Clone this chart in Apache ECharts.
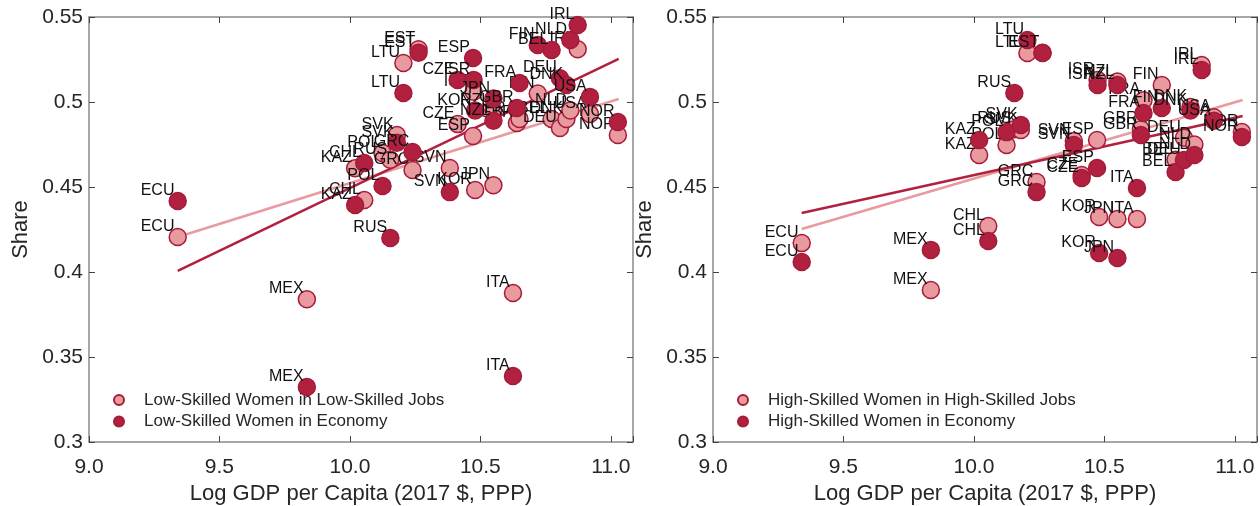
<!DOCTYPE html>
<html>
<head>
<meta charset="utf-8">
<script src="https://cdn.jsdelivr.net/npm/echarts@6/dist/echarts.min.js"></script>
<style>
  html, body { margin: 0; padding: 0; background: #fff; }
  #chart { width: 1260px; height: 506px; }
</style>
</head>
<body>
<div id="chart"></div>
<script>
  const countries = ['ECU', 'MEX', 'KAZ', 'CHL', 'POL', 'RUS', 'SVK', 'LTU', 'GRC', 'EST', 'SVN', 'CZE', 'ESP', 'ISR', 'KOR', 'JPN', 'NZL', 'ITA', 'GBR', 'FRA', 'FIN', 'BEL', 'DEU', 'DNK', 'NLD', 'IRL', 'USA', 'NOR'];
  const logGdp = [9.34, 9.835, 10.02, 10.055, 10.125, 10.155, 10.18, 10.205, 10.24, 10.263, 10.383, 10.413, 10.472, 10.474, 10.48, 10.55, 10.55, 10.625, 10.64, 10.65, 10.72, 10.773, 10.805, 10.83, 10.845, 10.873, 10.92, 11.027];

  // left panel
  const lowInLowJobs = [0.4206, 0.384, 0.461, 0.4424, 0.47, 0.466, 0.4806, 0.5229, 0.46, 0.531, 0.4612, 0.487, 0.48, 0.506, 0.4482, 0.451, 0.495, 0.3876, 0.4876, 0.49, 0.505, 0.49, 0.4847, 0.49, 0.495, 0.531, 0.493, 0.4806];
  const lowInEconomy = [0.4418, 0.3324, 0.4394, 0.4641, 0.4506, 0.42, 0.476, 0.5053, 0.4706, 0.529, 0.447, 0.513, 0.5259, 0.513, 0.495, 0.502, 0.489, 0.3388, 0.4965, 0.5112, 0.5335, 0.5306, 0.514, 0.51, 0.5365, 0.5453, 0.503, 0.4882];
  // right panel
  const highInHighJobs = [0.417, 0.3894, 0.4688, 0.427, 0.4747, 0.484, 0.4835, 0.5288, 0.4529, 0.529, 0.477, 0.457, 0.4776, 0.513, 0.4324, 0.4312, 0.512, 0.4312, 0.484, 0.501, 0.51, 0.466, 0.479, 0.497, 0.475, 0.5218, 0.491, 0.4824];
  const highInEconomy = [0.4059, 0.413, 0.4776, 0.4182, 0.4823, 0.5053, 0.4865, 0.5365, 0.447, 0.5288, 0.4747, 0.4553, 0.4612, 0.51, 0.4112, 0.4082, 0.51, 0.4494, 0.4806, 0.4935, 0.4965, 0.4588, 0.4659, 0.495, 0.4688, 0.5188, 0.489, 0.4794];

  // fitted lines, end points
  const lowJobsFit = [[9.34, 0.4206], [11.03, 0.5018]];
  const lowEconFit = [[9.34, 0.4006], [11.03, 0.5253]];
  const highJobsFit = [[9.34, 0.4253], [11.03, 0.5012]];
  const highEconFit = [[9.34, 0.4347], [11.03, 0.4918]];

  const xTicks = ['9.0', '9.5', '10.0', '10.5', '11.0'];
  const yTicks = ['0.3', '0.35', '0.4', '0.45', '0.5', '0.55'];

  const light = '#e89a9e';
  const dark = '#b2203f';
  const edge = '#a51c3a';
  const textColor = '#262626';
  const frameColor = '#8a8a8a';
  const font = 'Liberation Sans, Arial, sans-serif';

  const points = (ys) => countries.map((c, i) => ({ name: c, value: [logGdp[i], ys[i]] }));

  const grids = [
    { left: 89, top: 17, width: 544, height: 425, outerBoundsMode: 'none' },
    { left: 713, top: 17, width: 544, height: 425, outerBoundsMode: 'none' },
  ];

  const xAxes = [];
  const yAxes = [];
  grids.forEach((g, i) => {
    const common = {
      gridIndex: i,
      type: 'value',
      axisLine: { show: true, onZero: false, lineStyle: { color: frameColor, width: 1.5 } },
      axisTick: { show: true, inside: true, length: 6, lineStyle: { color: '#444', width: 1 } },
      splitLine: { show: false },
    };
    const xBase = { ...common, min: +xTicks[0], max: 11.085, interval: 0.5 };
    const yBase = { ...common, min: +yTicks[0], max: +yTicks[yTicks.length - 1], interval: 0.05 };
    xAxes.push({
      ...xBase,
      position: 'bottom',
      name: 'Log GDP per Capita (2017 $, PPP)',
      nameLocation: 'middle',
      nameGap: 41,
      nameTextStyle: { color: textColor, fontSize: 22, fontFamily: font },
      axisLabel: {
        color: textColor, fontSize: 21, fontFamily: font, margin: 15,
        formatter: (v) => xTicks.find((t) => Math.abs(+t - v) < 1e-6) || '',
      },
    });
    xAxes.push({ ...xBase, position: 'top', axisLabel: { show: false } });
    yAxes.push({
      ...yBase,
      position: 'left',
      name: 'Share',
      nameLocation: 'middle',
      nameGap: 57,
      nameTextStyle: { color: textColor, fontSize: 22, fontFamily: font },
      axisLabel: {
        color: textColor, fontSize: 21, fontFamily: font, margin: 6,
        formatter: (v) => yTicks.find((t) => Math.abs(+t - v) < 1e-6) || '',
      },
    });
    yAxes.push({ ...yBase, position: 'right', axisLabel: { show: false } });
  });

  const labelStyle = {
    show: true,
    formatter: (p) => p.name,
    position: [6, 7],
    align: 'right',
    verticalAlign: 'bottom',
    color: '#111',
    fontSize: 16,
    fontFamily: font,
  };

  const scatter = (name, data, fill, axis) => ({
    name,
    type: 'scatter',
    xAxisIndex: axis * 2,
    yAxisIndex: axis * 2,
    symbol: 'circle',
    symbolSize: 17,
    data,
    itemStyle: { color: fill, borderColor: edge, borderWidth: 1.5, opacity: 1 },
    label: labelStyle,
    emphasis: { disabled: true },
    z: fill === dark ? 3 : 2,
  });

  const fitLine = (data, color, axis) => ({
    type: 'line',
    xAxisIndex: axis * 2,
    yAxisIndex: axis * 2,
    data,
    symbol: 'none',
    lineStyle: { color, width: 2.5 },
    silent: true,
    z: 1,
  });

  const legendStyle = (left, names) => ({
    left,
    top: 385,
    orient: 'vertical',
    data: names,
    icon: 'circle',
    itemWidth: 30,
    itemHeight: 10,
    itemGap: 1.5,
    textStyle: { color: textColor, fontSize: 17, fontFamily: font, lineHeight: 20, padding: [0, 0, 0, 5] },
  });

  const chart = echarts.init(document.getElementById('chart'), null, { renderer: 'canvas' });
  chart.setOption({
    animation: false,
    backgroundColor: '#fff',
    grid: grids,
    xAxis: xAxes,
    yAxis: yAxes,
    legend: [
      legendStyle(108, ['Low-Skilled Women in Low-Skilled Jobs', 'Low-Skilled Women in Economy']),
      legendStyle(732, ['High-Skilled Women in High-Skilled Jobs', 'High-Skilled Women in Economy']),
    ],
    series: [
      fitLine(lowJobsFit, light, 0),
      fitLine(lowEconFit, dark, 0),
      scatter('Low-Skilled Women in Low-Skilled Jobs', points(lowInLowJobs), light, 0),
      scatter('Low-Skilled Women in Economy', points(lowInEconomy), dark, 0),
      fitLine(highJobsFit, light, 1),
      fitLine(highEconFit, dark, 1),
      scatter('High-Skilled Women in High-Skilled Jobs', points(highInHighJobs), light, 1),
      scatter('High-Skilled Women in Economy', points(highInEconomy), dark, 1),
    ],
  });
</script>
</body>
</html>
